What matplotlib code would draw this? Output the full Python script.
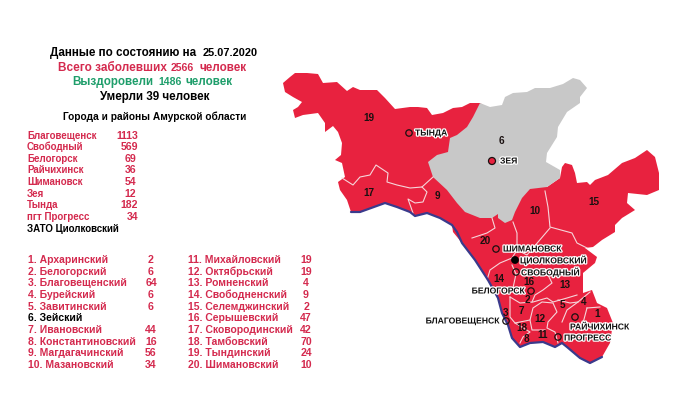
"""Amur region COVID-19 situation map, 25.07.2020."""

from __future__ import annotations

import matplotlib

matplotlib.use("Agg")
import matplotlib.patheffects as pe
import matplotlib.pyplot as plt
from matplotlib.patches import Circle, Polygon

RED = "#E8223F"
TEXT_RED = "#D42A4E"
GRAY = "#C8C8C8"
BLUE = "#3A3A8C"
GREEN = "#1F9E6B"

plt.rcParams["font.family"] = ["Liberation Sans", "DejaVu Sans"]
plt.rcParams["font.weight"] = "bold"

# Map outlines in pixel coordinates.
OBLAST = [
    (283, 83), (290, 77), (295, 73), (307, 73), (318, 74), (323, 83), (337, 82),
    (347, 91), (353, 87), (360, 90), (377, 90), (385, 98), (395, 109), (410, 107),
    (418, 107), (427, 108), (432, 115), (443, 113), (453, 108), (462, 107),
    (470, 103), (480, 103), (520, 130), (547, 187), (560, 178), (562, 167),
    (565, 163), (572, 165), (575, 173), (577, 183), (587, 182), (590, 185),
    (595, 180), (608, 175), (622, 163), (635, 158), (647, 150), (655, 157),
    (659, 173), (659, 190), (647, 195), (628, 193), (627, 203), (635, 210),
    (622, 218), (615, 225), (615, 232), (602, 240), (593, 247), (585, 248),
    (597, 257), (595, 263), (583, 273), (583, 293), (592, 290), (597, 303),
    (607, 308), (613, 323), (610, 343), (602, 357), (590, 363), (580, 358),
    (567, 347), (562, 343), (555, 347), (543, 342), (530, 343), (520, 347),
    (512, 338), (508, 325), (502, 313), (498, 298), (488, 280), (475, 260),
    (462, 243), (453, 232), (452, 225), (440, 218), (427, 213), (415, 216),
    (410, 212), (397, 207), (385, 203), (360, 212), (351, 212), (347, 200),
    (340, 190), (338, 182), (345, 177), (342, 163), (335, 160), (341, 155),
    (342, 143), (338, 132), (333, 126), (325, 132), (325, 123), (318, 113),
    (303, 115), (295, 118), (293, 110), (298, 107), (302, 102), (293, 97),
    (285, 92),
]
ZEYA = [
    (480, 103), (490, 107), (502, 105), (505, 97), (513, 93), (527, 92), (535, 88),
    (550, 88), (563, 84), (573, 78), (580, 80), (587, 88), (580, 97), (580, 103),
    (567, 112), (558, 127), (557, 137), (547, 153), (546, 162), (560, 170),
    (560, 178), (547, 187), (530, 189), (522, 198), (515, 212), (512, 220),
    (505, 223), (498, 218), (498, 214), (492, 218), (480, 218), (465, 212),
    (457, 203), (447, 190), (433, 177), (428, 162), (437, 155), (448, 152),
    (450, 138), (457, 135), (467, 127), (473, 117),
]
BLUE_BORDER = [
    (351, 212), (360, 212), (385, 203), (397, 207), (410, 212), (415, 216),
    (427, 213), (440, 218), (452, 225), (457, 232), (462, 243), (475, 260),
    (488, 280), (498, 298), (502, 313), (508, 325), (512, 338), (520, 347),
    (530, 343), (543, 342), (555, 347), (562, 343), (567, 347), (580, 358),
    (590, 363), (602, 357),
]
DISTRICT_LINES = [
    [(342, 178), (353, 185), (360, 177), (370, 175), (376, 165), (388, 173),
     (387, 182), (397, 185), (410, 188), (422, 187), (433, 177)],
    [(422, 187), (427, 192), (423, 202), (415, 203), (408, 199), (413, 213)],
    [(492, 218), (495, 228), (487, 233), (472, 238)],
    [(513, 222), (517, 233), (517, 250), (512, 258), (500, 263), (490, 270), (487, 280)],
    [(545, 191), (548, 207), (550, 227), (572, 233), (577, 243), (587, 248)],
    [(517, 250), (527, 255), (550, 228)],
    [(512, 265), (516, 274), (513, 288), (502, 292)],
    [(516, 274), (547, 273), (552, 283), (543, 290), (535, 295), (532, 302)],
    [(510, 297), (520, 303), (533, 302), (547, 298), (553, 302), (567, 298), (577, 295)],
    [(510, 297), (510, 317), (515, 323), (530, 320), (533, 308), (542, 302), (553, 303),
     (557, 312), (548, 322), (547, 328), (555, 332), (558, 343)],
    [(530, 320), (532, 330), (545, 330)],
    [(515, 323), (530, 332), (523, 337), (520, 343)],
    [(558, 300), (570, 303), (578, 302), (590, 292)],
    [(578, 302), (567, 310), (562, 322)],
    [(587, 308), (600, 307)],
    [(587, 308), (583, 323)],
]

# Text content.
CITIES = ["Благовещенск", "Свободный", "Белогорск", "Райчихинск", "Шимановск",
          "Зея", "Тында", "пгт Прогресс"]
CITY_CASES = [1113, 569, 69, 36, 54, 12, 182, 34]
DISTRICTS_A = ["1. Архаринский", "2. Белогорский", "3. Благовещенский", "4. Бурейский",
               "5. Завитинский", "6. Зейский", "7. Ивановский", "8. Константиновский",
               "9. Магдагачинский", "10. Мазановский"]
CASES_A = ["2", "6", "64", "6", "6", "", "44", "16", "56", "34"]
DISTRICTS_B = ["11. Михайловский", "12. Октябрьский", "13. Ромненский",
               "14. Свободненский", "15. Селемджинский", "16. Серышевский",
               "17. Сковородинский", "18. Тамбовский", "19. Тындинский",
               "20. Шимановский"]
CASES_B = ["19", "19", "4", "9", "2", "47", "42", "70", "24", "10"]
MAP_NUMBERS = [("19", 369, 118), ("6", 501, 141), ("9", 437, 196), ("17", 369, 193),
               ("10", 535, 211), ("15", 594, 202), ("20", 485, 241), ("14", 499, 279),
               ("16", 529, 282), ("13", 565, 285), ("2", 527, 300), ("4", 584, 302),
               ("5", 563, 305), ("7", 521, 311), ("3", 506, 313), ("1", 597, 314),
               ("12", 540, 319), ("18", 522, 328), ("11", 543, 335), ("8", 526, 339)]
MAP_TOWNS = [("ТЫНДА", 415, 133, "left"), ("ЗЕЯ", 500, 161, "left"),
             ("ШИМАНОВСК", 503, 249, "left"), ("ЦИОЛКОВСКИЙ", 520, 260, "left"),
             ("СВОБОДНЫЙ", 521, 272, "left"), ("БЕЛОГОРСК", 525, 291, "right"),
             ("БЛАГОВЕЩЕНСК", 500, 321, "right"), ("РАЙЧИХИНСК", 570, 327, "left"),
             ("ПРОГРЕСС", 564, 338, "left")]
MAP_RINGS = [(409, 133), (496, 249), (516, 272), (531, 291), (506, 321), (575, 317),
             (558, 337)]


def label(ax, x, y, s, size=8.0, color="black", ha="left"):
    ax.text(x, y, s, fontsize=size, color=color, ha=ha, va="center")


def main() -> None:
    fig = plt.figure(figsize=(6.9, 4.16), dpi=100)
    ax = fig.add_axes([0, 0, 1, 1])
    ax.set_xlim(0, 690)
    ax.set_ylim(416, 0)
    ax.axis("off")

    # Map shapes.
    ax.add_patch(Polygon(OBLAST, closed=True, fc=RED, ec="none", zorder=1))
    ax.add_patch(Polygon(ZEYA, closed=True, fc=GRAY, ec="none", zorder=2))
    for line in DISTRICT_LINES:
        xs, ys = zip(*line)
        ax.plot(xs, ys, color="#F6D5DA", lw=0.8, zorder=3)
    xs, ys = zip(*BLUE_BORDER)
    ax.plot(xs, ys, color=BLUE, lw=1.6, zorder=3, solid_capstyle="round")

    # Map labels.
    for s, x, y in MAP_NUMBERS:
        ax.text(x, y, s, fontsize=7.2, color="#1A1010", ha="center", va="center", zorder=5)
    halo = [pe.withStroke(linewidth=1.8, foreground="white")]
    for s, x, y, ha in MAP_TOWNS:
        ax.text(x, y, s, fontsize=6.2, color="#111111", ha=ha, va="center", zorder=6,
                path_effects=halo)
    for x, y in MAP_RINGS:
        ax.add_patch(Circle((x, y), 3.2, fc="none", ec="#1A1010", lw=0.9, zorder=5))
    ax.add_patch(Circle((492, 161), 3.5, fc=RED, ec="#1A1010", lw=0.9, zorder=5))
    ax.add_patch(Circle((515, 260), 3.5, fc="black", ec="black", lw=0.5, zorder=5))

    # Header.
    label(ax, 50, 53, "Данные по состоянию на", 8.4)
    label(ax, 203, 53, "25.07.2020", 7.9)
    label(ax, 58, 68, "Всего заболевших", 8.5, TEXT_RED)
    label(ax, 171, 68, "2566", 7.6, TEXT_RED)
    label(ax, 199, 68, "человек", 8.4, TEXT_RED)
    label(ax, 72, 82, "Выздоровели", 8.4, GREEN)
    label(ax, 158, 82, "1486", 7.6, GREEN)
    label(ax, 186, 82, "человек", 8.4, GREEN)
    label(ax, 100, 97, "Умерли 39 человек", 8.4)
    label(ax, 63, 117, "Города и районы Амурской области", 7.3)

    # City list.
    city_ys = [136, 147, 159, 170, 182, 194, 205, 217]
    city_rights = [138, 138, 136, 136, 136, 136, 138, 138]
    for name, cases, y, right in zip(CITIES, CITY_CASES, city_ys, city_rights):
        label(ax, 27, y, name, 7.0, TEXT_RED)
        label(ax, right, y, str(cases), 7.6, TEXT_RED, ha="right")
    label(ax, 27, 229, "ЗАТО Циолковский", 7.0)

    # District lists.
    list_ys = [260, 272, 283, 295, 307, 318, 330, 342, 353, 365]
    for name, cases, y in zip(DISTRICTS_A, CASES_A, list_ys):
        label(ax, 28, y, name, 7.5, "black" if cases == "" else TEXT_RED)
        label(ax, 151, y, cases, 7.6, TEXT_RED, ha="center")
    for name, cases, y in zip(DISTRICTS_B, CASES_B, list_ys):
        label(ax, 188, y, name, 7.5, TEXT_RED)
        label(ax, 306, y, cases, 7.6, TEXT_RED, ha="center")

    fig.savefig("out.png", dpi=100)


if __name__ == "__main__":
    main()
